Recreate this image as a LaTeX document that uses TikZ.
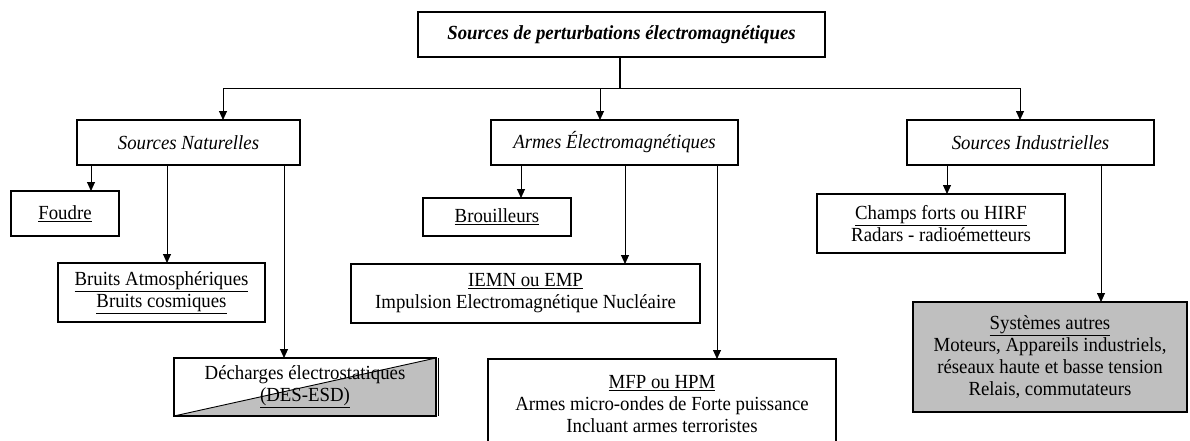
\documentclass[tikz,border=0pt]{standalone}
\usepackage{fontspec}
\setmainfont[FakeStretch=0.94]{Liberation Serif}
\usetikzlibrary{arrows.meta}
\begin{document}
\begin{tikzpicture}[x=1pt,y=-1pt,
    bloc/.style={draw,line width=1.3pt,inner sep=0pt,outer sep=0pt,align=center,font=\fontsize{20}{22}\selectfont},
    fl/.style={line width=0.9pt,-{Triangle[length=9pt,width=8pt]}}]
  \useasboundingbox (0,0) rectangle (1190,440);
  \clip (0,0) rectangle (1190,440);
  \node[bloc,minimum width=407,minimum height=45,font=\fontsize{20}{22}\selectfont\bfseries\itshape] (src) at (621.5,34.5) {Sources de perturbations électromagnétiques};
  \node[bloc,minimum width=223,minimum height=45,font=\fontsize{20}{22}\selectfont\itshape] (nat) at (188.5,142.5) {Sources Naturelles};
  \node[bloc,minimum width=247,minimum height=45,font=\fontsize{20}{22}\selectfont\itshape] (arm) at (614.5,142.5) {Armes Électromagnétiques};
  \node[bloc,minimum width=247,minimum height=45,font=\fontsize{20}{22}\selectfont\itshape] (ind) at (1030.5,142.5) {Sources Industrielles};
  \node[bloc,minimum width=108,minimum height=45] (fou) at (65,213.5) {\underline{Foudre}};
  \node[bloc,minimum width=148,minimum height=38] (brou) at (497,217) {\underline{Brouilleurs}};
  \node[bloc,minimum width=248,minimum height=59] (chp) at (941,223.5) {\underline{Champs forts ou HIRF}\\Radars - radioémetteurs};
  \node[bloc,minimum width=207,minimum height=59] (bru) at (161.5,292.5) {\underline{Bruits Atmosphériques}\\\underline{Bruits cosmiques}};
  \node[bloc,minimum width=349,minimum height=59] (iemn) at (525.5,293.5) {\underline{IEMN ou EMP}\\Impulsion Electromagnétique Nucléaire};
  \node[bloc,minimum width=262,minimum height=58,
    path picture={\fill[gray!50] (path picture bounding box.south west) -- (path picture bounding box.north east) |- cycle;
      \draw[line width=0.9pt] (path picture bounding box.south west) -- (path picture bounding box.north east);}] (des) at (305,387) {Décharges électrostatiques\\\underline{(DES-ESD)}};
  \draw[line width=0.8pt] ([xshift=2.5pt]des.north east) -- ([xshift=2.5pt]des.south east);
  \node[bloc,minimum width=348,minimum height=90] (mfp) at (662,404) {\underline{MFP ou HPM}\\Armes micro-ondes de Forte puissance\\Incluant armes terroristes};
  \node[bloc,fill=gray!50,minimum width=274,minimum height=110] (sys) at (1050,357) {\underline{Systèmes autres}\\Moteurs, Appareils industriels,\\réseaux haute et basse tension\\Relais, commutateurs};
  \coordinate (bg) at (223,88);
  \coordinate (bm) at (600,88);
  \coordinate (bd) at (1020,88);
  \draw[line width=2pt] (620,0 |- src.south) -- (620,88);
  \draw[line width=0.9pt] (bg) -- (bd);
  \draw[fl] (bg) -- (nat.north -| bg);
  \draw[fl] (bm) -- (arm.north -| bm);
  \draw[fl] (bd) -- (ind.north -| bd);
  \draw[fl] (91,0 |- nat.south) -- (91,0 |- fou.north);
  \draw[fl] (167,0 |- nat.south) -- (167,0 |- bru.north);
  \draw[fl] (284,0 |- nat.south) -- (284,0 |- des.north);
  \draw[fl] (521,0 |- arm.south) -- (521,0 |- brou.north);
  \draw[fl] (625,0 |- arm.south) -- (625,0 |- iemn.north);
  \draw[fl] (717,0 |- arm.south) -- (717,0 |- mfp.north);
  \draw[fl] (947,0 |- ind.south) -- (947,0 |- chp.north);
  \draw[fl] (1101,0 |- ind.south) -- (1101,0 |- sys.north);
\end{tikzpicture}
\end{document}
